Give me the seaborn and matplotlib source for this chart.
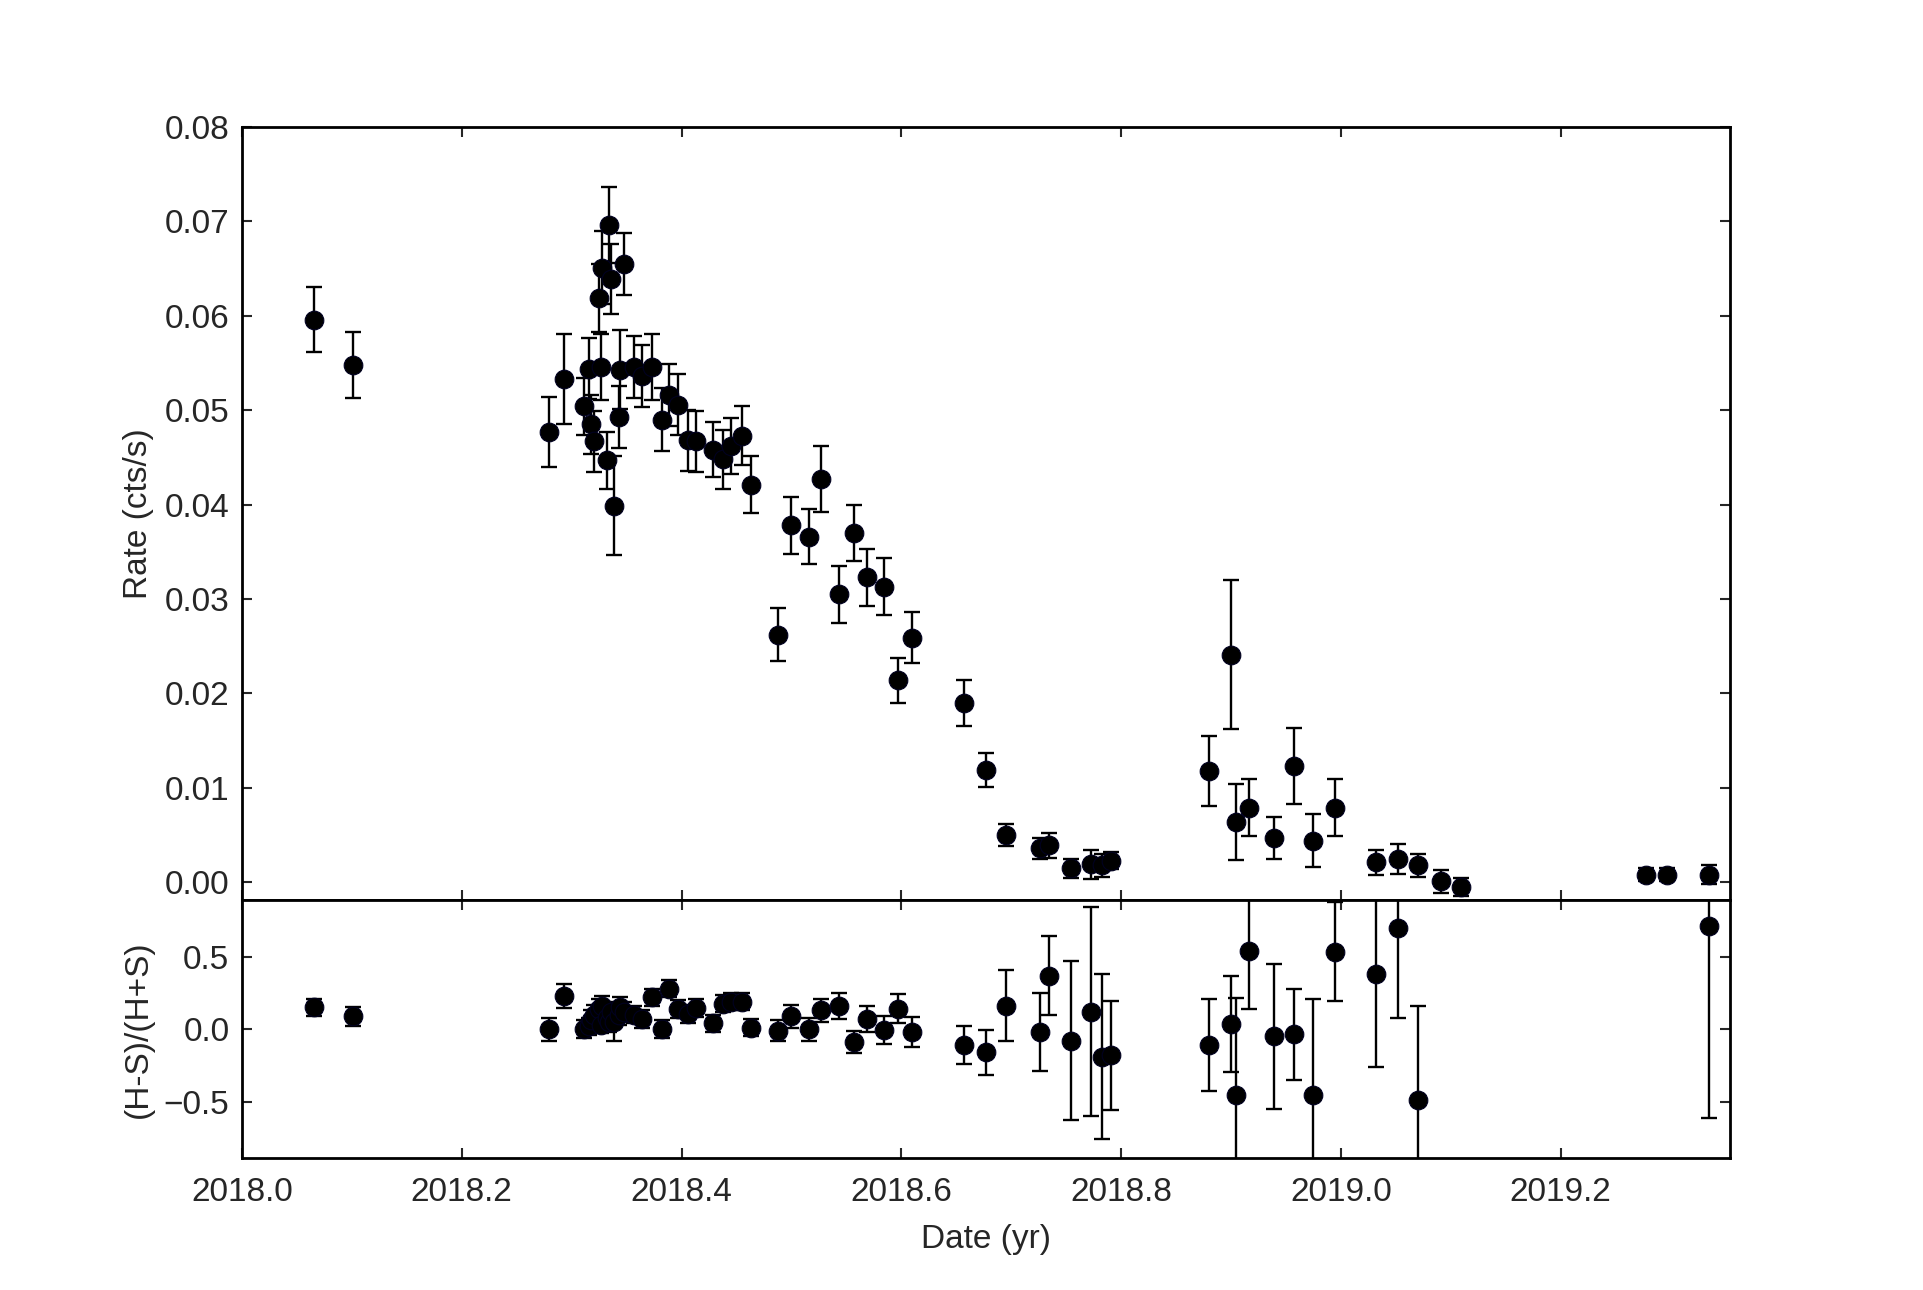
import numpy as np
import pandas as pd
import seaborn as sns
import matplotlib.pyplot as plt

# fechas de observacion (yr)
fechas = [2018.066, 2018.101, 2018.279, 2018.293, 2018.311, 2018.316, 2018.318, 2018.320,
          2018.325, 2018.327, 2018.328, 2018.332, 2018.334, 2018.336, 2018.339, 2018.343,
          2018.344, 2018.348, 2018.357, 2018.364, 2018.373, 2018.382, 2018.389, 2018.397,
          2018.406, 2018.413, 2018.429, 2018.438, 2018.445, 2018.455, 2018.463, 2018.488,
          2018.500, 2018.516, 2018.527, 2018.543, 2018.557, 2018.569, 2018.584, 2018.597,
          2018.610, 2018.657, 2018.677, 2018.695, 2018.726, 2018.734, 2018.754, 2018.773,
          2018.783, 2018.791, 2018.880, 2018.900, 2018.905, 2018.916, 2018.939, 2018.957,
          2018.975, 2018.995, 2019.032, 2019.052, 2019.070, 2019.091, 2019.109, 2019.278,
          2019.297, 2019.335]

# tasa de cuentas (cts/s) y su error
tasa = [0.0596, 0.0548, 0.0477, 0.0533, 0.0504, 0.0544, 0.0485, 0.0467,
        0.0619, 0.0546, 0.0651, 0.0447, 0.0696, 0.0639, 0.0399, 0.0493,
        0.0543, 0.0655, 0.0546, 0.0536, 0.0546, 0.0490, 0.0516, 0.0506,
        0.0468, 0.0467, 0.0458, 0.0448, 0.0462, 0.0473, 0.0421, 0.0262,
        0.0378, 0.0366, 0.0427, 0.0305, 0.0370, 0.0323, 0.0313, 0.0214,
        0.0259, 0.0190, 0.0119, 0.0050, 0.0036, 0.0039, 0.0015, 0.0019,
        0.0018, 0.0023, 0.0118, 0.0241, 0.0064, 0.0079, 0.0047, 0.0123,
        0.0044, 0.0079, 0.0021, 0.0025, 0.0018, 0.0001, -0.0005, 0.0008,
        0.0008, 0.0008]
err_tasa = [0.0034, 0.0035, 0.0037, 0.0048, 0.0030, 0.0032, 0.0031, 0.0032,
            0.0036, 0.0035, 0.0039, 0.0030, 0.0040, 0.0037, 0.0052, 0.0033,
            0.0042, 0.0033, 0.0033, 0.0033, 0.0035, 0.0033, 0.0033, 0.0032,
            0.0032, 0.0032, 0.0029, 0.0031, 0.0030, 0.0031, 0.0030, 0.0028,
            0.0030, 0.0029, 0.0035, 0.0030, 0.0030, 0.0030, 0.0030, 0.0024,
            0.0027, 0.0024, 0.0018, 0.0012, 0.0011, 0.0013, 0.0010, 0.0015,
            0.0012, 0.0009, 0.0037, 0.0079, 0.0040, 0.0030, 0.0022, 0.0040,
            0.0028, 0.0030, 0.0013, 0.0016, 0.0012, 0.0012, 0.0010, 0.0007,
            0.0007, 0.0010]

# cociente de dureza (H-S)/(H+S)
dureza = [0.15, 0.09, 0.00, 0.23, 0.00, 0.02, 0.06, 0.10,
          0.14, 0.03, 0.16, 0.08, 0.05, 0.12, 0.05, 0.10,
          0.15, 0.12, 0.10, 0.07, 0.22, 0.00, 0.28, 0.14,
          0.105, 0.145, 0.04, 0.175, 0.19, 0.19, 0.01, -0.01,
          0.09, 0.00, 0.13, 0.16, -0.09, 0.07, -0.005, 0.14,
          -0.02, -0.11, -0.16, 0.16, -0.02, 0.37, -0.08, 0.12,
          -0.19, -0.18, -0.11, 0.035, -0.455, 0.54, -0.05, -0.035,
          -0.455, 0.535, 0.38, 0.70, -0.49, np.nan, np.nan, np.nan,
          np.nan, 0.715]
err_dureza = [0.06, 0.065, 0.08, 0.085, 0.06, 0.06, 0.07, 0.07,
              0.07, 0.06, 0.07, 0.07, 0.07, 0.07, 0.13, 0.07,
              0.07, 0.07, 0.06, 0.06, 0.06, 0.06, 0.06, 0.06,
              0.06, 0.06, 0.06, 0.06, 0.06, 0.06, 0.06, 0.07,
              0.08, 0.08, 0.08, 0.09, 0.075, 0.09, 0.095, 0.10,
              0.105, 0.13, 0.155, 0.245, 0.27, 0.27, 0.55, 0.72,
              0.57, 0.375, 0.315, 0.333, 0.67, 0.40, 0.50, 0.315,
              0.665, 0.34, 0.64, 0.62, 0.65, np.nan, np.nan, np.nan,
              np.nan, 1.33]

datos = pd.DataFrame({"Fecha": fechas, "Tasa": tasa, "ErrTasa": err_tasa,
                      "Dureza": dureza, "ErrDureza": err_dureza})

sns.set_style("ticks")
plt.rcParams["font.family"] = ["Liberation Sans", "DejaVu Sans"]

fig = plt.figure(figsize=(19.23, 12.9), dpi=100)
gs = fig.add_gridspec(2, 1, height_ratios=[3, 1], hspace=0,
                      left=0.1258, right=0.8996, top=0.9016, bottom=0.1023)
ax1 = fig.add_subplot(gs[0])
ax2 = fig.add_subplot(gs[1], sharex=ax1)

estilo_err = dict(fmt="none", ecolor="black", elinewidth=1.7, capsize=5.5, capthick=1.7, zorder=2)

ax1.errorbar(datos["Fecha"], datos["Tasa"], yerr=datos["ErrTasa"], **estilo_err)
sns.scatterplot(data=datos, x="Fecha", y="Tasa", ax=ax1, s=180, color="black",
                edgecolor="#000020", linewidth=0.8, zorder=3)

d2 = datos.dropna()
ax2.errorbar(d2["Fecha"], d2["Dureza"], yerr=d2["ErrDureza"], **estilo_err)
sns.scatterplot(data=d2, x="Fecha", y="Dureza", ax=ax2, s=180, color="black",
                edgecolor="#000020", linewidth=0.8, zorder=3)

ax1.set_xlim(2018.0, 2019.354)
ax1.set_ylim(-0.0019, 0.08)
ax1.set_yticks(np.arange(0.0, 0.081, 0.01))
ax1.yaxis.set_major_formatter(plt.FormatStrFormatter("%.2f"))
ax2.set_ylim(-0.89, 0.89)
ax2.set_yticks([-0.5, 0.0, 0.5])
ax2.set_xticks(np.arange(2018.0, 2019.35, 0.2))
ax2.xaxis.set_major_formatter(plt.FormatStrFormatter("%.1f"))

for ax in (ax1, ax2):
    ax.tick_params(direction="in", top=True, right=True, length=7.5, width=1.5,
                   labelsize=24)
    ax.tick_params(axis="y", pad=9)
    ax.tick_params(axis="x", pad=14)
    for s in ax.spines.values():
        s.set_linewidth(2)
        s.set_color("black")
ax1.tick_params(labelbottom=False)

ax1.set_xlabel("")
ax1.set_ylabel("Rate (cts/s)", fontsize=24)
ax2.set_ylabel("(H-S)/(H+S)", fontsize=24)
ax2.set_xlabel("Date (yr)", fontsize=24)
ax1.yaxis.set_label_coords(-0.059, 0.5)
ax2.yaxis.set_label_coords(-0.059, 0.5)
ax2.xaxis.set_label_coords(0.5, -0.255)

plt.savefig("out.png", dpi=100)
